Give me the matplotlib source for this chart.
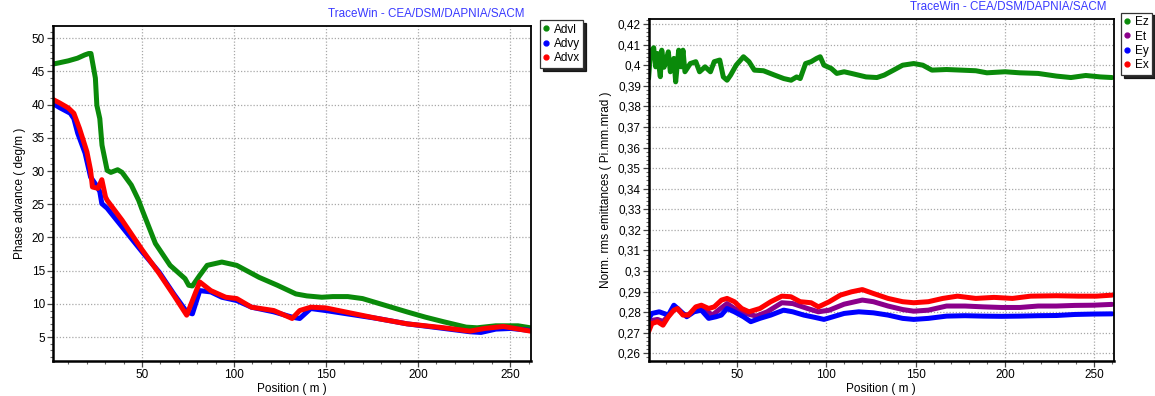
import matplotlib
matplotlib.use("Agg")
import matplotlib.pyplot as plt
from matplotlib.lines import Line2D
from matplotlib.ticker import MultipleLocator, FuncFormatter

plt.rcParams['font.family'] = ['Liberation Sans', 'DejaVu Sans']

# ---- Phase advance along the linac (deg/m) ----
advl_pos = [1.5, 5, 10, 15, 19, 21.1, 22.3, 24.7, 25.5, 27.1, 28.3, 31.1, 33.1, 36.8, 39.2,
            44.2, 48.2, 50.2, 57.3, 65.3, 73.4, 75.4, 77.4, 81.4, 85.4, 93.4, 101.5,
            113.6, 123.6, 133.6, 139.6, 147.7, 153.7, 161.8, 169.8, 181.9, 193.9,
            204, 214, 226.1, 232.1, 242.2, 254.3, 261]
advl_val = [46.1, 46.3, 46.6, 47.0, 47.5, 47.7, 47.7, 44.0, 39.9, 37.9, 33.9, 30.1, 29.8, 30.2, 29.8,
            27.9, 25.6, 24.1, 19.1, 15.8, 13.8, 12.8, 12.7, 14.3, 15.8, 16.3, 15.8,
            14.0, 12.8, 11.5, 11.2, 11.0, 11.1, 11.1, 10.8, 9.8, 8.8,
            8.0, 7.3, 6.5, 6.4, 6.7, 6.7, 6.4]

advy_pos = [1.5, 5, 11.1, 13, 15.1, 19.1, 22.1, 25.1, 27.1, 28.2, 31.1, 39.2, 50.2, 59.3,
            67.3, 74.3, 77.4, 81.4, 87.4, 93.4, 101.5, 109.5, 121.6, 131.6, 135.7,
            141.7, 149.7, 163.8, 178, 193.9, 214, 228.2, 234.2, 242.2, 250.3, 261]
advy_val = [40.2, 39.6, 38.7, 37.9, 35.7, 32.7, 29.1, 27.9, 26.9, 25.1, 24.4, 21.6, 17.8, 14.8,
            11.5, 8.8, 8.5, 12.0, 11.8, 11.0, 10.5, 9.5, 8.8, 8.0, 7.8,
            9.3, 9.0, 8.4, 7.8, 7.0, 6.3, 5.8, 5.7, 6.2, 6.3, 6.0]

advx_pos = [1.5, 5, 10, 13, 16.1, 20.1, 22.1, 23.1, 26.1, 28.2, 30.2, 31.1, 39.2, 50.2, 59.3,
            67.3, 74.3, 81.4, 87.4, 95.5, 101.5, 109.5, 121.6, 131.6, 135.7, 141.7,
            149.7, 163.8, 178, 193.9, 214, 228.2, 236.2, 246.3, 261]
advx_val = [40.8, 40.3, 39.5, 38.7, 36.4, 32.9, 30.1, 27.6, 27.4, 28.7, 26.1, 25.6, 22.6, 18.1, 14.6,
            11.3, 8.3, 13.3, 12.0, 11.0, 10.8, 9.5, 9.0, 7.8, 9.0, 9.5,
            9.4, 8.6, 7.8, 7.0, 6.4, 5.9, 6.3, 6.6, 5.9]

# ---- Normalised rms emittances (Pi.mm.mrad) ----
ez_pos = [0.3, 1.2, 2.2, 3.2, 4.3, 5.3, 6.9, 7.7, 9.0, 10.4, 11.4, 12.5, 14.5, 15.5, 17.2,
          18.6, 19.6, 20.7, 23.7, 26.8, 28.9, 32, 35, 37.1, 40.2, 42.2, 44.3, 46.3,
          49.4, 53.5, 56.6, 59.6, 64.7, 70.9, 76.1, 80.2, 83.3, 85.3, 88.3, 91.4,
          94.5, 96.5, 98.6, 102.7, 105.8, 109.9, 114, 122.2, 128.3, 132.4, 137.6,
          142.7, 148.9, 154, 159.1, 167.3, 175.5, 183.7, 189.9, 200.1, 208.3, 218.6,
          228.9, 237, 245.3, 253.5, 260]
ez_val = [0.3935, 0.4040, 0.4073, 0.4085, 0.3992, 0.4057, 0.3944, 0.4073, 0.3990, 0.4033,
          0.4065, 0.3968, 0.4033, 0.3919, 0.4073, 0.3992, 0.4073, 0.3968, 0.4008, 0.4017,
          0.3968, 0.3992, 0.3968, 0.4017, 0.4025, 0.3943, 0.3927, 0.3952, 0.4000, 0.4041,
          0.4017, 0.3976, 0.3973, 0.3952, 0.3935, 0.3927, 0.3943, 0.3935, 0.4008, 0.4017,
          0.4033, 0.4041, 0.4000, 0.3984, 0.3960, 0.3968, 0.3960, 0.3943, 0.3940, 0.3952,
          0.3976, 0.4000, 0.4008, 0.4000, 0.3976, 0.3979, 0.3976, 0.3973, 0.3963, 0.3968,
          0.3963, 0.3960, 0.3947, 0.3940, 0.3950, 0.3943, 0.3940]

et_pos = [0.3, 2.2, 5.3, 8.4, 11.4, 14.5, 16.5, 19.6, 22.7, 26.8, 29.9, 33, 36.1, 40.2,
          44.3, 48.4, 54.5, 60.7, 66.8, 75, 81.1, 89.4, 95.5, 101.6, 109.9, 120.1,
          126.3, 134.5, 142.7, 148.9, 157.1, 167.3, 177.6, 187.9, 198.1, 208.3,
          218.6, 228.9, 239.1, 249.4, 260]
et_val = [0.2720, 0.2760, 0.2765, 0.2755, 0.2782, 0.2815, 0.2818, 0.2790, 0.2786, 0.2815,
          0.2822, 0.2805, 0.2786, 0.2815, 0.2842, 0.2818, 0.2794, 0.2781, 0.2802, 0.2846,
          0.2842, 0.2818, 0.2802, 0.2810, 0.2839, 0.2859, 0.2851, 0.2830, 0.2813, 0.2805,
          0.2810, 0.2830, 0.2830, 0.2826, 0.2823, 0.2823, 0.2830, 0.2830, 0.2833, 0.2834,
          0.2838]

ey_pos = [0.4, 2.2, 6.3, 11.4, 14.5, 17.6, 21.7, 25.8, 29.9, 34, 38.1, 41.1, 44.3, 48.4,
          53.5, 57.6, 62.7, 68.8, 76, 81.1, 87.3, 93.4, 98.6, 103.7, 109.9, 118.1,
          126.3, 134.5, 142.7, 148.9, 157.1, 167.3, 177.6, 187.9, 198.1, 208.3,
          218.6, 228.9, 239.1, 249.4, 260]
ey_val = [0.2770, 0.2794, 0.2802, 0.2786, 0.2834, 0.2810, 0.2778, 0.2802, 0.2810, 0.2770,
          0.2778, 0.2786, 0.2818, 0.2802, 0.2778, 0.2754, 0.2770, 0.2786, 0.2810, 0.2802,
          0.2786, 0.2775, 0.2765, 0.2778, 0.2794, 0.2802, 0.2797, 0.2786, 0.2770, 0.2765,
          0.2770, 0.2781, 0.2783, 0.2781, 0.2780, 0.2781, 0.2783, 0.2784, 0.2789, 0.2791,
          0.2792]

ex_pos = [0.3, 2.2, 5.3, 8.4, 11.4, 14.5, 16.5, 19.6, 22.7, 26.8, 29.9, 34, 37.1, 41.2,
          44.3, 48.4, 52.5, 56.6, 62.7, 68.8, 75, 80.1, 85.3, 91.4, 95.5, 101.6,
          107.8, 114, 120.1, 126.3, 134.5, 142.7, 148.9, 157.1, 165.2, 173.4, 183.7,
          193.9, 204.2, 214.4, 228.9, 241.2, 251.4, 260]
ex_val = [0.2705, 0.2745, 0.2754, 0.2737, 0.2778, 0.2810, 0.2818, 0.2786, 0.2786, 0.2826,
          0.2834, 0.2818, 0.2826, 0.2859, 0.2867, 0.2851, 0.2818, 0.2802, 0.2818, 0.2851,
          0.2878, 0.2875, 0.2851, 0.2846, 0.2826, 0.2851, 0.2883, 0.2899, 0.2910, 0.2891,
          0.2867, 0.2851, 0.2846, 0.2851, 0.2867, 0.2878, 0.2867, 0.2872, 0.2867, 0.2878,
          0.2880, 0.2878, 0.2878, 0.2883]

GREEN = '#0a8a0a'
BLUE = '#0000ff'
RED = '#ff0000'
PURPLE = '#8b008b'
TITLE_BLUE = '#3a3aff'
LW = 3.6

fig = plt.figure(figsize=(11.55, 3.96), dpi=100)
ax1 = fig.add_axes([0.0456, 0.0884, 0.4144, 0.8452])
ax2 = fig.add_axes([0.5615, 0.0884, 0.4028, 0.8629])


def style_axes(ax):
    ax.grid(True, which='major', color='#a8a8a8', linestyle=(0, (1, 1.5)), linewidth=0.9)
    ax.set_axisbelow(True)
    for side in ('left', 'bottom'):
        ax.spines[side].set_linewidth(1.8)
    for side in ('top', 'right'):
        ax.spines[side].set_linewidth(1.3)
    ax.tick_params(which='major', direction='out', length=4, width=0.9,
                   color='#444444', labelsize=8.5, pad=1.5)
    ax.tick_params(which='minor', direction='out', length=2.5, width=0.8, color='#666666')
    ax.set_xlabel('Position ( m )', fontsize=8.5, labelpad=2)


line_kw = dict(lw=LW, solid_capstyle='round', solid_joinstyle='round')

# Left: phase advance
ax1.plot(advl_pos, advl_val, color=GREEN, **line_kw)
ax1.plot(advy_pos, advy_val, color=BLUE, **line_kw)
ax1.plot(advx_pos, advx_val, color=RED, **line_kw)
ax1.set_xlim(1.5, 261.5)
ax1.set_ylim(1.4, 51.8)
ax1.xaxis.set_major_locator(MultipleLocator(50))
ax1.xaxis.set_minor_locator(MultipleLocator(10))
ax1.yaxis.set_major_locator(MultipleLocator(5))
ax1.yaxis.set_minor_locator(MultipleLocator(1))
style_axes(ax1)
ax1.set_ylabel('Phase advance ( deg/m )', fontsize=8.5, labelpad=4)

# Right: emittances
ax2.plot(ez_pos, ez_val, color=GREEN, **line_kw)
ax2.plot(et_pos, et_val, color=PURPLE, **line_kw)
ax2.plot(ey_pos, ey_val, color=BLUE, **line_kw)
ax2.plot(ex_pos, ex_val, color=RED, **line_kw)
ax2.set_xlim(0.3, 261)
ax2.set_ylim(0.2563, 0.4223)
ax2.xaxis.set_major_locator(MultipleLocator(50))
ax2.xaxis.set_minor_locator(MultipleLocator(10))
ax2.yaxis.set_major_locator(MultipleLocator(0.01))
ax2.yaxis.set_minor_locator(MultipleLocator(0.002))
ax2.yaxis.set_major_formatter(FuncFormatter(lambda v, p: ('%g' % round(v, 4)).replace('.', ',')))
style_axes(ax2)
ax2.set_ylabel('Norm. rms emittances ( Pi.mm.mrad )', fontsize=8.5, labelpad=4)

# Header text
fig.text(525 / 1155, 1 - 14 / 396, 'TraceWin - CEA/DSM/DAPNIA/SACM', color=TITLE_BLUE,
         fontsize=8.4, ha='right', va='center')
fig.text(1107 / 1155, 1 - 7 / 396, 'TraceWin - CEA/DSM/DAPNIA/SACM', color=TITLE_BLUE,
         fontsize=8.4, ha='right', va='center')


def dot(c):
    return Line2D([], [], linestyle='none', marker='o', markersize=3.5,
                  markerfacecolor=c, markeredgecolor=c)


leg_kw = dict(loc='upper left', frameon=True, fancybox=False,
              shadow={'color': 'black', 'alpha': 0.85}, fontsize=8.5,
              handlelength=0.4, handletextpad=0.45, borderpad=0.3,
              labelspacing=0.2, borderaxespad=0)
leg1 = fig.legend([dot(GREEN), dot(BLUE), dot(RED)], ['Advl', 'Advy', 'Advx'],
                  bbox_to_anchor=(540 / 1155, 1 - 20 / 396), **leg_kw)
leg2 = fig.legend([dot(GREEN), dot(PURPLE), dot(BLUE), dot(RED)], ['Ez', 'Et', 'Ey', 'Ex'],
                  bbox_to_anchor=(1121 / 1155, 1 - 12.7 / 396), **leg_kw)
for leg in (leg1, leg2):
    fr = leg.get_frame()
    fr.set_edgecolor('#333333')
    fr.set_linewidth(0.9)

fig.savefig('out.png', dpi=100)
